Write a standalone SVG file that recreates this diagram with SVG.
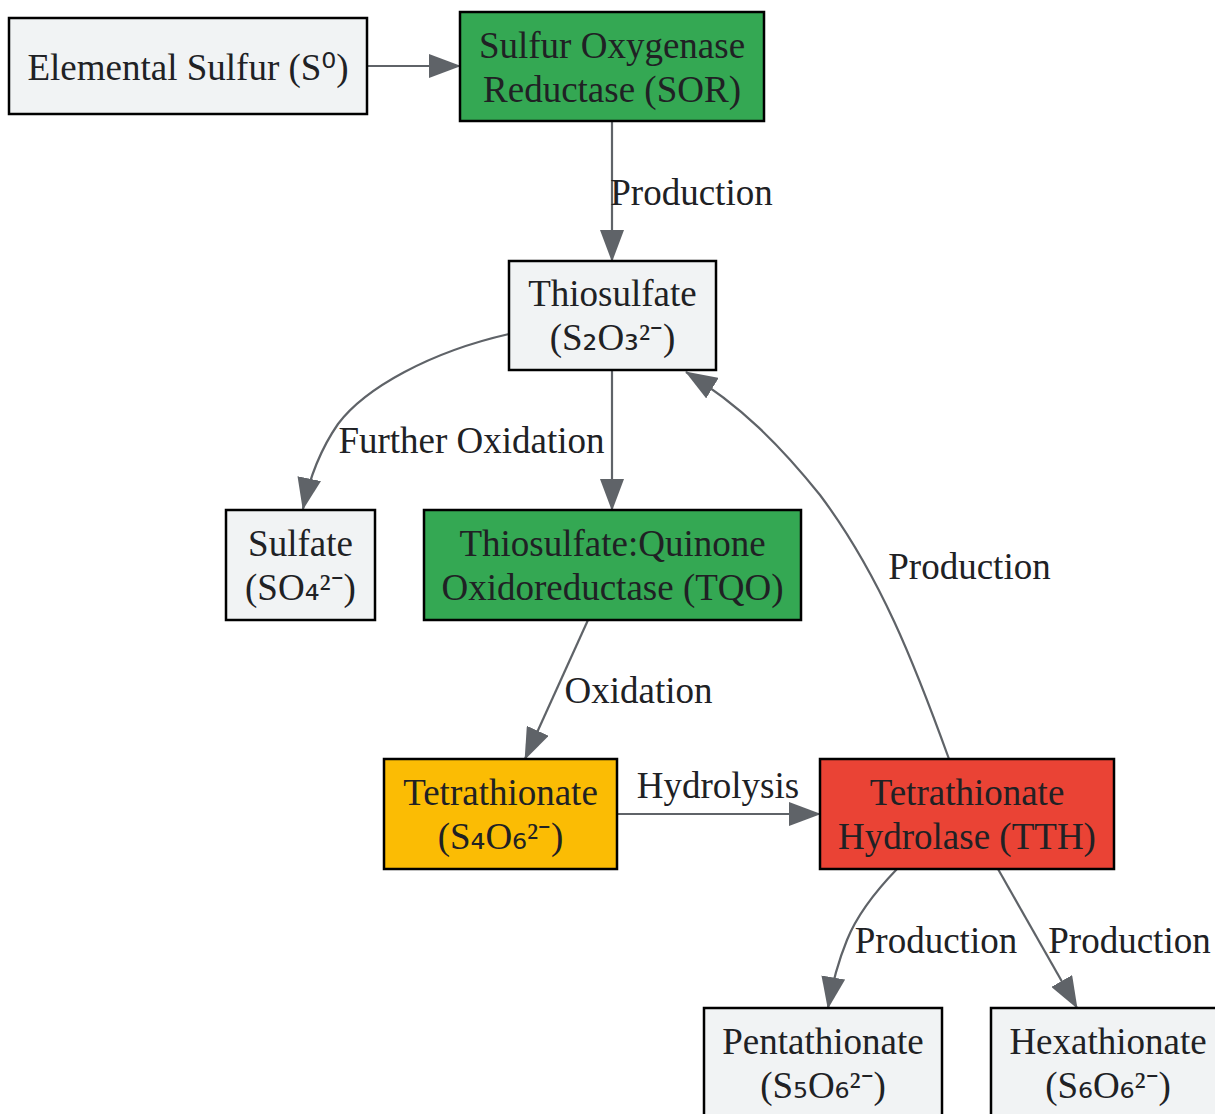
<svg xmlns="http://www.w3.org/2000/svg" width="1215" height="1114" viewBox="0 0 1215 1114">
<style>
.node rect{stroke:#000;stroke-width:2.5}
.gray rect{fill:#f1f3f4}
.green rect{fill:#34a853}
.yellow rect{fill:#fbbc04}
.red rect{fill:#ea4335}
text{font-family:"Liberation Serif","Times New Roman",serif;font-size:37px;fill:#202124;text-anchor:middle}
.sub{font-family:"DejaVu Sans",sans-serif}
.edge{fill:none;stroke:#5f6368;stroke-width:2.2}
</style>
<defs>
<marker id="arr" markerUnits="userSpaceOnUse" markerWidth="32" markerHeight="24" viewBox="0 0 32 24" refX="31" refY="12" orient="auto">
<path d="M0,0 L32,12 L0,24 z" fill="#5f6368"/>
</marker>
</defs>
<rect width="1215" height="1114" fill="#fff"/>
<g id="connectors">
<path class="edge" marker-end="url(#arr)" d="M367,66 L460,66"/>
<path class="edge" marker-end="url(#arr)" d="M612,121 L612,261"/>
<path class="edge" marker-end="url(#arr)" d="M509,334 C430,352 365,388 338,424 C320,450 309,480 303,509"/>
<path class="edge" marker-end="url(#arr)" d="M612,370 L612,510"/>
<path class="edge" marker-end="url(#arr)" d="M588,620 L525,759"/>
<path class="edge" marker-end="url(#arr)" d="M617,814 L820,814"/>
<path class="edge" marker-end="url(#arr)" d="M949,759 C915,665 880,575 820,495 C780,445 740,405 686,372"/>
<path class="edge" marker-end="url(#arr)" d="M897,869 C870,897 855,920 847,940 C838,962 832,985 828,1008"/>
<path class="edge" marker-end="url(#arr)" d="M998,869 L1077,1008"/>
<text x="691.5" y="205">Production</text>
<text x="471.5" y="453">Further Oxidation</text>
<text x="638.5" y="703">Oxidation</text>
<text x="718" y="798">Hydrolysis</text>
<text x="969.5" y="579">Production</text>
<text x="936" y="953">Production</text>
<text x="1129.5" y="953">Production</text>
</g>
<g id="elemental-sulfur" class="node gray"><rect x="9" y="18" width="358" height="96"/><text x="188" y="80">Elemental Sulfur (S<tspan class="sub">⁰</tspan>)</text></g>
<g id="sor" class="node green"><rect x="460" y="12" width="304" height="109"/><text x="612" y="58">Sulfur Oxygenase</text><text x="612" y="102">Reductase (SOR)</text></g>
<g id="thiosulfate" class="node gray"><rect x="509" y="261" width="207" height="109"/><text x="612.5" y="306">Thiosulfate</text><text x="612.5" y="350">(S<tspan class="sub">₂</tspan>O<tspan class="sub">₃</tspan>²⁻)</text></g>
<g id="sulfate" class="node gray"><rect x="226" y="510" width="149" height="110"/><text x="300.5" y="556">Sulfate</text><text x="300.5" y="600">(SO<tspan class="sub">₄</tspan>²⁻)</text></g>
<g id="tqo" class="node green"><rect x="424" y="510" width="377" height="110"/><text x="612.5" y="556">Thiosulfate:Quinone</text><text x="612.5" y="600">Oxidoreductase (TQO)</text></g>
<g id="tetrathionate" class="node yellow"><rect x="384" y="759" width="233" height="110"/><text x="500.5" y="805">Tetrathionate</text><text x="500.5" y="849">(S<tspan class="sub">₄</tspan>O<tspan class="sub">₆</tspan>²⁻)</text></g>
<g id="tth" class="node red"><rect x="820" y="759" width="294" height="110"/><text x="967" y="805">Tetrathionate</text><text x="967" y="849">Hydrolase (TTH)</text></g>
<g id="pentathionate" class="node gray"><rect x="704" y="1008" width="238" height="112"/><text x="823" y="1054">Pentathionate</text><text x="823" y="1098">(S<tspan class="sub">₅</tspan>O<tspan class="sub">₆</tspan>²⁻)</text></g>
<g id="hexathionate" class="node gray"><rect x="991" y="1008" width="236" height="112"/><text x="1108" y="1054">Hexathionate</text><text x="1108" y="1098">(S<tspan class="sub">₆</tspan>O<tspan class="sub">₆</tspan>²⁻)</text></g>
</svg>
